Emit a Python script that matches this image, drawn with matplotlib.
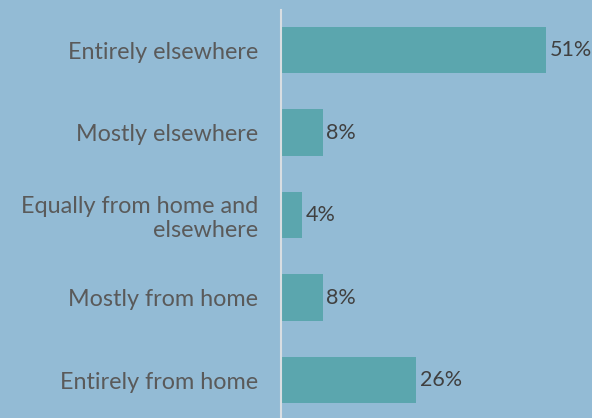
import matplotlib
matplotlib.use("Agg")
import matplotlib.pyplot as plt

categories = ["Entirely from home", "Mostly from home", "Equally from home and\nelsewhere",
              "Mostly elsewhere", "Entirely elsewhere"]
values = [26, 8, 4, 8, 51]

bg = "#93BBD5"
bar_color = "#5BA6AE"

W, H = 592, 418
fig = plt.figure(figsize=(W/100, H/100), dpi=100, facecolor=bg)
left = 281 / W
ax = fig.add_axes([left, 0, 1 - left, 1 - 10/H])
ax.set_facecolor(bg)

ypos = list(range(len(categories)))
ax.barh(ypos, values, height=0.56, color=bar_color)
ax.set_xlim(0, (W - 281) / 5.2)
ax.set_ylim(-0.46, 4.485)

for y, v in zip(ypos, values):
    ax.text(v + 0.7, y, f"{v}%", va="center", ha="left", fontsize=15.5,
            color="#404040", family="Lato")

ax.set_yticks(ypos)
ax.set_yticklabels(categories, fontsize=16.8, color="#5A5A5A", family="Lato",
                   linespacing=1.15)
ax.tick_params(axis="y", length=0, pad=16.5)
ax.set_xticks([])
for s in ["top", "right", "bottom"]:
    ax.spines[s].set_visible(False)
ax.spines["left"].set_color("#D9DEE2")
ax.spines["left"].set_linewidth(1.5)

fig.savefig("out.png", dpi=100, facecolor=bg)
